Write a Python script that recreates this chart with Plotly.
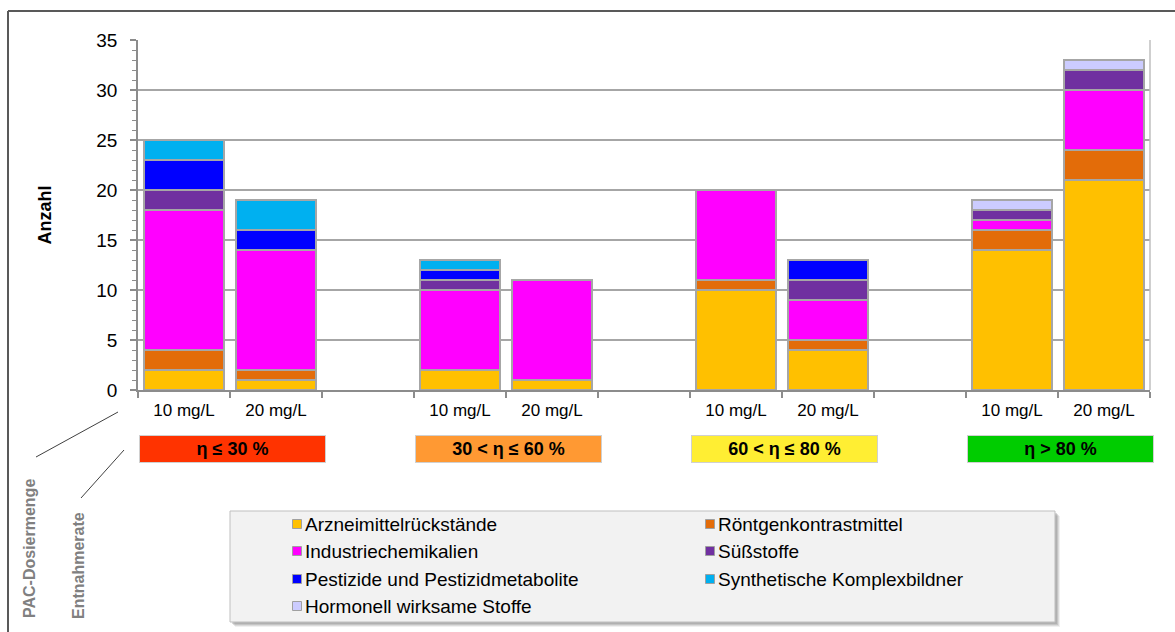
import plotly.graph_objects as go

# Removal-rate classes and PAC doses
groups = ["η ≤ 30 %", "30 < η ≤ 60 %", "60 < η ≤ 80 %", "η > 80 %"]
group_colors = ["#FF3300", "#FF9933", "#FFEE33", "#00CC00"]
doses = ["10 mg/L", "20 mg/L"]

# Substance classes (stack order bottom -> top)
series_names = [
    "Arzneimittelrückstände",
    "Röntgenkontrastmittel",
    "Industriechemikalien",
    "Süßstoffe",
    "Pestizide und Pestizidmetabolite",
    "Synthetische Komplexbildner",
    "Hormonell wirksame Stoffe",
]
series_colors = ["#FFC000", "#E36C09", "#FF00FF", "#7030A0", "#0000FF", "#00B0F0", "#CCCCFF"]

# Counts per bar: (group, dose) in order g1-10, g1-20, g2-10, g2-20, ...
arzneimittel = [2, 1, 2, 1, 10, 4, 14, 21]
roentgen = [2, 1, 0, 0, 1, 1, 2, 3]
industrie = [14, 12, 8, 10, 9, 4, 1, 6]
suessstoffe = [2, 0, 1, 0, 0, 2, 1, 2]
pestizide = [3, 2, 1, 0, 0, 2, 0, 0]
komplexbildner = [2, 3, 1, 0, 0, 0, 0, 0]
hormone = [0, 0, 0, 0, 0, 0, 1, 1]
series_values = [arzneimittel, roentgen, industrie, suessstoffe, pestizide, komplexbildner, hormone]

y_ticks = [0, 5, 10, 15, 20, 25, 30, 35]

# Category layout: two dose bars per group, an empty slot between groups
bar_cats = []
all_cats = []
all_text = []
for gi, g in enumerate(groups):
    for d in doses:
        key = f"{g}|{d}"
        bar_cats.append(key)
        all_cats.append(key)
        all_text.append(d)
    if gi < len(groups) - 1:
        gap = f"gap{gi}"
        all_cats.append(gap)
        all_text.append("")

W, H = 1175, 632
ML, MR, MT, MB = 138, 25, 40, 242
PW, PH = W - ML - MR, H - MT - MB


def px(x):
    return (x - ML) / PW


def py(y):
    return (H - MB - y) / PH


FONT = "Liberation Sans, Arial, sans-serif"

fig = go.Figure()
for name, color, vals in zip(series_names, series_colors, series_values):
    fig.add_trace(go.Bar(
        x=bar_cats, y=vals, name=name, width=0.87,
        marker=dict(color=color, line=dict(color="#A6A6A6", width=1.5)),
        showlegend=False,
    ))

shapes = []
annotations = []

# Outer frame (left and top edges)
shapes.append(dict(type="line", xref="paper", yref="paper", x0=px(8), x1=px(8), y0=py(11), y1=py(H + 5),
                   line=dict(color="#595959", width=2)))
shapes.append(dict(type="line", xref="paper", yref="paper", x0=px(8), x1=px(W + 5), y0=py(11), y1=py(11),
                   line=dict(color="#595959", width=2)))

# Removal-rate class boxes under each dose pair
for gi, (g, c) in enumerate(zip(groups, group_colors)):
    cx = all_cats.index(f"{g}|{doses[0]}") + 0.5
    annotations.append(dict(
        x=cx, y=py(449), xref="x", yref="paper", xshift=2,
        xanchor="center", yanchor="middle",
        text=f"<b>{g}</b>", showarrow=False,
        width=183, height=24, bgcolor=c, bordercolor="#D0D0D0", borderwidth=1,
        font=dict(family=FONT, size=18, color="black"),
    ))

# Leader lines for the row captions
shapes.append(dict(type="line", xref="paper", yref="paper", x0=px(118), y0=py(412), x1=px(36), y1=py(457),
                   line=dict(color="#404040", width=1)))
shapes.append(dict(type="line", xref="paper", yref="paper", x0=px(124), y0=py(450), x1=px(81), y1=py(498),
                   line=dict(color="#404040", width=1)))
annotations.append(dict(x=px(29), y=py(549), xref="paper", yref="paper", text="<b>PAC-Dosiermenge</b>",
                        xanchor="center", yanchor="middle",
                        textangle=-90, showarrow=False, font=dict(family=FONT, size=16, color="#808080")))
annotations.append(dict(x=px(78), y=py(566), xref="paper", yref="paper", text="<b>Entnahmerate</b>",
                        xanchor="center", yanchor="middle",
                        textangle=-90, showarrow=False, font=dict(family=FONT, size=16, color="#808080")))

# Legend box with soft shadow
lx0, ly0, lx1, ly1 = 230, 511, 1055, 622
for off, op in [(5, 0.12), (4, 0.18), (3, 0.25), (2, 0.3)]:
    shapes.append(dict(type="rect", xref="paper", yref="paper",
                       x0=px(lx0 + off), x1=px(lx1 + off), y0=py(ly0 + off), y1=py(ly1 + off),
                       fillcolor="#808080", opacity=op, line=dict(width=0)))
shapes.append(dict(type="rect", xref="paper", yref="paper", x0=px(lx0), x1=px(lx1), y0=py(ly0), y1=py(ly1),
                   fillcolor="#F2F2F2", line=dict(color="#BFBFBF", width=1)))
col_x = [297, 710]
row_y = [524, 551, 579, 606]
for i, (name, color) in enumerate(zip(series_names, series_colors)):
    mx, my = col_x[i % 2], row_y[i // 2]
    shapes.append(dict(type="rect", xref="paper", yref="paper",
                       x0=px(mx - 4.5), x1=px(mx + 4.5), y0=py(my - 4.5), y1=py(my + 4.5),
                       fillcolor=color, line=dict(color="#A0A0A0", width=1)))
    annotations.append(dict(x=px(mx + 6), y=py(my), xref="paper", yref="paper", text=name,
                            xanchor="left", yanchor="middle", showarrow=False,
                            font=dict(family=FONT, size=19, color="black")))

fig.update_layout(
    width=W, height=H,
    margin=dict(l=ML, r=MR, t=MT, b=MB, pad=0),
    barmode="stack", bargap=0.13,
    paper_bgcolor="white", plot_bgcolor="white",
    font=dict(family=FONT, color="black"),
    showlegend=False,
    shapes=shapes, annotations=annotations,
    xaxis=dict(
        type="category", categoryorder="array", categoryarray=all_cats,
        tickvals=all_cats, ticktext=all_text, tickson="boundaries",
        range=[-0.5, len(all_cats) - 0.5],
        ticks="outside", ticklen=6, tickcolor="#8C8C8C", tickwidth=1.5,
        ticklabelstandoff=4,
        showline=True, linecolor="#8C8C8C", linewidth=1.5, mirror=False,
        showgrid=False, tickfont=dict(family=FONT, size=17, color="black"),
    ),
    yaxis=dict(
        range=[0, 35], tickvals=y_ticks,
        ticks="outside", ticklen=6, tickcolor="#8C8C8C", tickwidth=1.5,
        ticklabelstandoff=9,
        minor=dict(dtick=1, ticks="outside", ticklen=4, tickcolor="#8C8C8C", tickwidth=1, showgrid=False),
        showline=True, linecolor="#8C8C8C", linewidth=1.5,
        showgrid=True, gridcolor="#A6A6A6", gridwidth=1.5,
        zeroline=False,
        tickfont=dict(family=FONT, size=19, color="black"),
        title=dict(text="<b>Anzahl</b>", font=dict(family=FONT, size=18, color="black"), standoff=40),
    ),
)

# Right border of plot area
fig.add_shape(type="line", xref="paper", yref="paper", x0=1, x1=1, y0=0, y1=1,
              line=dict(color="#BFBFBF", width=1.5))

fig.write_html("out.html")
